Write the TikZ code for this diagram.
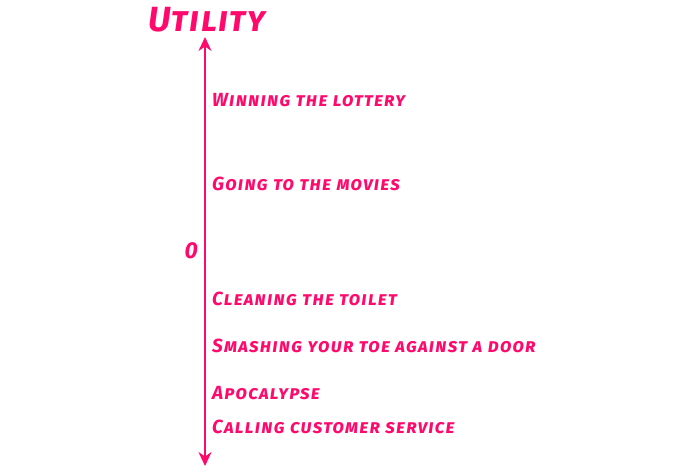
\documentclass[tikz,border=0pt]{standalone}
\usepackage{fontspec}
\newfontfamily\markerfont{Fira Sans}[Letters=SmallCaps, LetterSpace=6]
\newfontfamily\headfont{Fira Sans}[Letters=SmallCaps, LetterSpace=4]
\usetikzlibrary{arrows.meta}
\definecolor{hotpink}{HTML}{FF0A6C}

\begin{document}
\begin{tikzpicture}[x=1pt, y=-1pt, >={Stealth[length=14pt, width=13pt]}]
  % Utility scale: one vertical axis, events ranked along it
  \useasboundingbox (0,0) rectangle (700,473);
  \tikzset{
    item/.style={anchor=west, inner sep=0pt, text=hotpink,
      font=\markerfont\bfseries\itshape\fontsize{19}{19}\selectfont},
    heading/.style={inner sep=0pt, text=hotpink,
      font=\headfont\bfseries\itshape\fontsize{35}{35}\selectfont}
  }
  % Axis with arrows on both ends
  \coordinate (top) at (205,37);
  \coordinate (bottom) at (205,466);
  \draw[<->, hotpink, line width=2.8pt] (bottom) -- (top);
  % Title and zero mark
  \node[heading] (utility) at (207,20) {Utility};
  \node[heading, anchor=east, font=\headfont\bfseries\itshape\fontsize{23}{23}\selectfont]
    (zero) at (198,251) {0};
  % Events, best at the top
  \foreach \y/\name/\txt in {100/lottery/Winning the lottery,
                            184/movies/Going to the movies,
                            299/toilet/Cleaning the toilet,
                            346/toe/Smashing your toe against a door,
                            393/apocalypse/Apocalypse,
                            427/service/Calling customer service} {
    \node[item] (\name) at (212,\y) {\txt};
  }
\end{tikzpicture}
\end{document}
